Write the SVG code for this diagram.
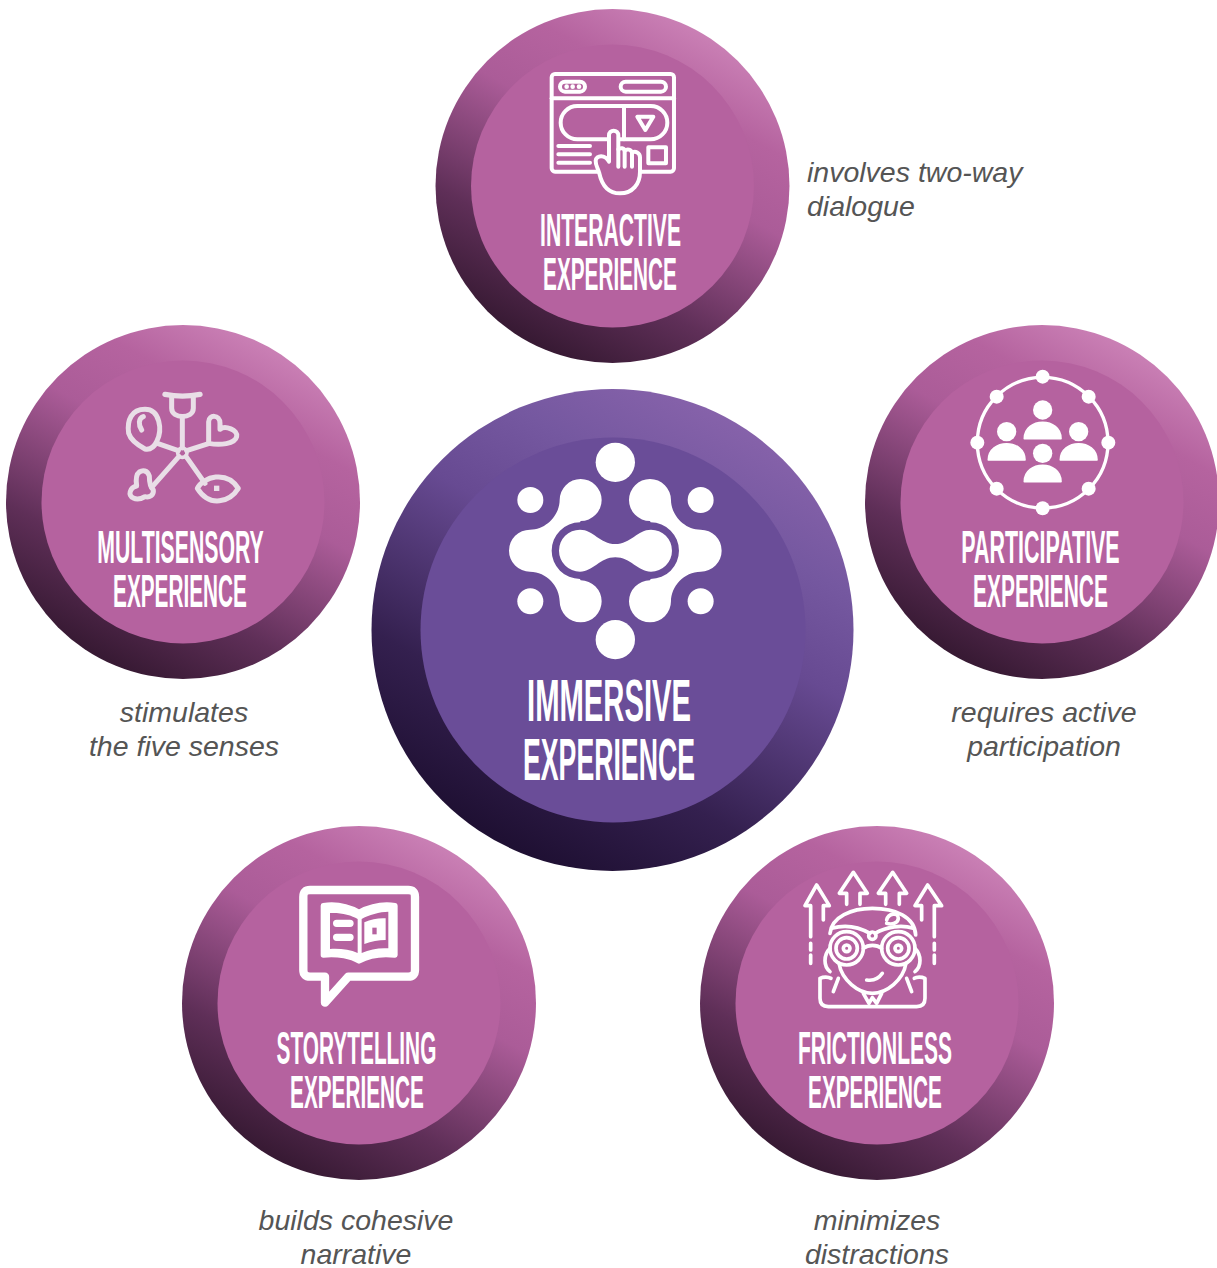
<svg xmlns="http://www.w3.org/2000/svg" width="1217" height="1268" viewBox="0 0 1217 1268">
<defs>
<linearGradient id="ringP" x1="0.3" y1="0.95" x2="0.78" y2="0.08">
<stop offset="0" stop-color="#381a34"/><stop offset="0.25" stop-color="#5f2f58"/><stop offset="0.6" stop-color="#ab5c98"/><stop offset="0.8" stop-color="#b5639f"/><stop offset="1" stop-color="#ca80b5"/>
</linearGradient>
<linearGradient id="ringV" x1="0.3" y1="0.95" x2="0.78" y2="0.08">
<stop offset="0" stop-color="#1f1033"/><stop offset="0.25" stop-color="#34204f"/><stop offset="0.6" stop-color="#674a92"/><stop offset="0.8" stop-color="#7558a0"/><stop offset="1" stop-color="#8662aa"/>
</linearGradient>
<path id="body" d="M-55 0C-55-65 55-65 55 0Z" fill="#fff" stroke="#fff" stroke-width="5" stroke-linejoin="round"/>
</defs>
<style>
.rp{fill:url(#ringP)}.ip{fill:#b5629f}.rv{fill:url(#ringV)}.iv{fill:#6a4d98}
.t{font-family:"Liberation Sans",Arial,sans-serif;font-weight:700;fill:#fff;font-size:47px;text-anchor:middle}
.tb{font-size:60px}
.c{font-family:"Liberation Sans",Arial,sans-serif;font-style:italic;font-size:28.500px;fill:#555}
.m{text-anchor:middle}
.ln{fill:none;stroke:#fff;stroke-width:12;stroke-linecap:round;stroke-linejoin:round}
.sn{fill:none;stroke:#e9dee7;stroke-width:15;stroke-linecap:round;stroke-linejoin:round}
.ar{fill:none;stroke:#fff;stroke-width:11;stroke-linecap:round;stroke-linejoin:round}
</style>

<g id="node-interactive">
<circle class="rp" cx="612.500" cy="186" r="177"/><circle class="ip" cx="612.500" cy="186" r="141.500"/>
<g transform="translate(530 60) scale(.3333)">
<g class="ln">
<rect x="65" y="42" width="367" height="293" rx="10"/><path d="M65 115H432"/>
<rect x="90" y="65" width="75" height="30" rx="15"/><rect x="272" y="65" width="136" height="30" rx="15"/>
<rect x="92" y="138" width="320" height="100" rx="50"/><path d="M282 138V238M322 170H370L346 210Z"/>
<path d="M85 258H180M85 283H180M85 308H180"/><rect x="355" y="262" width="53" height="48"/>
</g>
<circle cx="110" cy="80" r="7" fill="#fff"/><circle cx="128" cy="80" r="7" fill="#fff"/><circle cx="147" cy="80" r="7" fill="#fff"/>
<path class="ln" style="fill:#b5629f" d="M237 305V226A14 14 0 0 1 265 226V268C272 262 282 264 284 272C292 266 303 268 306 278C316 272 330 278 330 292V335C330 372 308 400 270 400C232 400 215 372 208 340C204 325 196 315 197 302C199 285 225 282 237 305Z"/>
<path class="ln" d="M284 272V320M306 278V320M265 268V320"/>
</g>
<text class="t" transform="translate(610.500 246) scale(.45 1)">INTERACTIVE</text>
<text class="t" transform="translate(610 290) scale(.442 1)">EXPERIENCE</text>
<text class="c" x="807" y="182">involves two-way</text>
<text class="c" x="807" y="216">dialogue</text>
</g>

<g id="node-multisensory">
<circle class="rp" cx="183" cy="502" r="177"/><circle class="ip" cx="183" cy="502" r="141.500"/>
<g transform="translate(110 380) scale(.3333)" class="sn">
<circle cx="217" cy="218" r="14" stroke-width="11"/>
<path d="M217 204V115M205 212L142 190M230 212L298 190M207 229L125 322M228 229L285 310"/>
<path d="M165 43C200 50 235 50 270 43" stroke-width="16"/>
<path d="M185 50V85C185 118 250 118 250 85V50"/>
<path d="M140 185C158 150 150 88 105 88C65 88 50 120 56 160C62 180 88 198 105 207C122 210 133 200 140 185ZM100 110C85 115 85 135 95 150"/>
<path d="M296 190V125C296 103 330 103 330 130V148C345 135 385 150 380 170C375 192 330 197 296 190Z"/>
<path d="M88 276C76 285 78 305 80 318C60 322 52 347 70 354C85 362 98 354 105 350C118 354 132 345 130 330C118 320 118 300 118 288C112 270 98 270 88 276Z"/>
<path d="M262 325C280 290 350 270 385 325C360 365 300 385 262 325Z"/>
<rect x="312" y="317" width="16" height="16" fill="#e9dee7" stroke="none"/>
</g>
<text class="t" transform="translate(180.500 563) scale(.4526 1)">MULTISENSORY</text>
<text class="t" transform="translate(180 607) scale(.442 1)">EXPERIENCE</text>
<text class="c m" x="184" y="722">stimulates</text>
<text class="c m" x="184" y="756">the five senses</text>
</g>

<g id="node-participative">
<circle class="rp" cx="1042" cy="502" r="177"/><circle class="ip" cx="1042" cy="502" r="141.500"/>
<g transform="translate(960 360) scale(.3333)">
<circle cx="248" cy="248" r="196" fill="none" stroke="#fff" stroke-width="10"/>
<g fill="#fff">
<circle cx="248" cy="50" r="21"/><circle cx="248" cy="445" r="21"/><circle cx="52" cy="248" r="21"/><circle cx="445" cy="248" r="21"/>
<circle cx="110" cy="110" r="21"/><circle cx="386" cy="110" r="21"/><circle cx="110" cy="386" r="21"/><circle cx="386" cy="386" r="21"/>
<circle cx="248" cy="150" r="29"/><circle cx="140" cy="215" r="29"/><circle cx="356" cy="215" r="29"/><circle cx="248" cy="280" r="29"/>
</g>
<use href="#body" x="248" y="236"/><use href="#body" x="140" y="300"/><use href="#body" x="356" y="300"/><use href="#body" x="248" y="365"/>
</g>
<text class="t" transform="translate(1040.500 563) scale(.456 1)">PARTICIPATIVE</text>
<text class="t" transform="translate(1040.500 607) scale(.445 1)">EXPERIENCE</text>
<text class="c m" x="1044" y="722">requires active</text>
<text class="c m" x="1044" y="756">participation</text>
</g>

<g id="node-storytelling">
<circle class="rp" cx="359" cy="1003" r="177"/><circle class="ip" cx="359" cy="1003" r="141.500"/>
<g transform="translate(285 875) scale(.3333)">
<path d="M75 45H370Q390 45 390 65V285Q390 305 370 305H190L120 383V305H75Q55 305 55 285V65Q55 45 75 45Z" fill="none" stroke="#fff" stroke-width="25" stroke-linejoin="round"/>
<path d="M115 92V240C160 235 200 245 222 258C245 245 285 235 330 240V92C285 85 245 100 222 112C200 100 160 85 115 92Z" fill="#fff" stroke="#fff" stroke-width="16" stroke-linejoin="round"/>
<path d="M135 114C165 112 200 120 218 132V234C195 224 165 220 135 222Z" fill="#b5629f"/>
<path d="M310 110C285 110 250 120 230 132V234C255 222 285 218 310 220Z" fill="#b5629f"/>
<path d="M155 145H195M155 187H195" stroke="#fff" stroke-width="22" stroke-linecap="round"/>
<path d="M238 142Q270 128 302 130V195Q270 195 238 207Z" fill="#fff"/>
<rect x="262" y="158" width="13" height="20" fill="#b5629f"/>
</g>
<text class="t" transform="translate(356.500 1064) scale(.4435 1)">STORYTELLING</text>
<text class="t" transform="translate(357 1108) scale(.442 1)">EXPERIENCE</text>
<text class="c m" x="356" y="1230">builds cohesive</text>
<text class="c m" x="356" y="1264">narrative</text>
</g>

<g id="node-frictionless">
<circle class="rp" cx="877" cy="1003" r="177"/><circle class="ip" cx="877" cy="1003" r="141.500"/>
<g transform="translate(795 865) scale(.3333)" class="ar">
<path d="M47 215V122H30L65 60L103 122H85V165"/>
<path d="M47 235V255M47 270V295"/>
<path d="M155 118V85H133L175 22L217 85H195V118"/>
<path d="M272 118V85H250L293 22L335 85H313V118"/>
<path d="M380 165V122H360L398 60L440 122H418V215"/>
<path d="M418 235V255M418 270V295"/>
<path d="M105 205C110 155 170 130 232 130C300 130 360 155 362 210"/>
<path d="M275 165C280 145 310 140 310 160C310 175 290 180 275 175"/>
<path d="M110 190C150 178 190 185 225 205M240 205C275 185 320 178 355 190"/>
<circle cx="155" cy="250" r="50"/><circle cx="310" cy="250" r="50"/>
<circle cx="155" cy="250" r="32"/><circle cx="310" cy="250" r="32"/>
<circle cx="155" cy="250" r="10"/><circle cx="310" cy="250" r="10"/>
<circle cx="232" cy="212" r="11"/>
<path d="M205 250C220 238 245 238 260 250"/>
<path d="M132 295C140 345 190 385 232 385C275 385 325 345 333 295"/>
<path d="M105 250C85 270 85 305 105 320M360 250C380 270 380 305 360 320"/>
<path d="M215 345Q245 350 262 325"/>
<path d="M115 380L130 340M350 380L335 340"/>
<path d="M75 340V400Q75 425 100 425H365Q390 425 390 400V340C380 335 365 335 358 340M75 340C85 335 100 335 108 340"/>
<path d="M205 385L222 415L232 398L245 415L260 385"/>
</g>
<text class="t" transform="translate(875 1064) scale(.4468 1)">FRICTIONLESS</text>
<text class="t" transform="translate(875 1108) scale(.442 1)">EXPERIENCE</text>
<text class="c m" x="877" y="1230">minimizes</text>
<text class="c m" x="877" y="1264">distractions</text>
</g>

<g id="node-immersive">
<circle class="rv" cx="612.500" cy="630" r="241"/><circle class="iv" cx="613" cy="630" r="192.500"/>
<g transform="translate(490 430) scale(.3333)" fill="#fff">
<circle cx="376" cy="97" r="59"/><circle cx="376" cy="629" r="59"/>
<circle cx="121" cy="210" r="39"/><circle cx="632" cy="210" r="39"/><circle cx="121" cy="514" r="39"/><circle cx="632" cy="514" r="39"/>
<path id="half" d="M272 147A63 63 0 0 1 272 273Q270 277 270 277A85 85 0 0 0 270 447Q271 450 272 451A63 63 0 1 1 209 514C209 470 170 425 120 425A63 63 0 0 1 120 299C170 299 209 254 209 210A63 63 0 0 1 272 147Z"/>
<use href="#half" transform="translate(752 0) scale(-1 1)"/>
<path d="M270 299C310 299 330 342 376 342C422 342 443 299 483 299A63 63 0 0 1 483 425C443 425 422 382 376 382C330 382 310 425 270 425A63 63 0 0 1 270 299Z"/>
</g>
<text class="t tb" transform="translate(609 721) scale(.487 1)">IMMERSIVE</text>
<text class="t tb" transform="translate(609 780) scale(.4447 1)">EXPERIENCE</text>
</g>
</svg>
